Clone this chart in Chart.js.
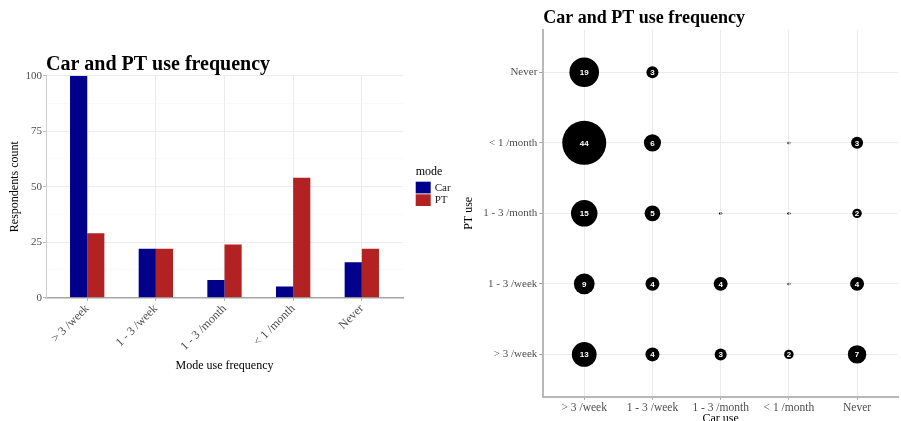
<!DOCTYPE html>
<html>
<head>
<meta charset="utf-8">
<script src="https://cdn.jsdelivr.net/npm/chart.js@4/dist/chart.umd.min.js"></script>
<style>
  html, body { margin: 0; padding: 0; width: 901px; height: 421px; overflow: hidden; background: #fff; }
  #freq { position: absolute; left: 0; top: 0; }
  #cross { position: absolute; left: 460px; top: 0; }
</style>
</head>
<body>
<canvas id="freq" width="460" height="421"></canvas>
<canvas id="cross" width="460" height="440"></canvas>
<script>
// Frequency categories, shared by both panels (bottom-to-top on the y axis of the cross panel)
const frequencies = ['> 3 /week', '1 - 3 /week', '1 - 3 /month', '< 1 /month', 'Never'];

// Respondents per frequency, by mode
const carCounts = [100, 22, 8, 5, 16];
const ptCounts = [29, 22, 24, 54, 22];

// Cross-tabulation: one row per PT use level, columns follow car use levels
const ptOver3Week = [13, 4, 3, 2, 7];
const pt1to3Week = [9, 4, 4, 1, 4];
const pt1to3Month = [15, 5, 1, 1, 2];
const ptUnder1Month = [44, 6, 0, 1, 3];
const ptNever = [19, 3, 0, 0, 0];

const countTicks = [0, 25, 50, 75, 100];

const SERIF = '"Liberation Serif", "Times New Roman", serif';
Chart.defaults.font.family = SERIF;
Chart.defaults.color = '#4d4d4d';

const GRID = '#ececec';
const GRID_MINOR = '#f5f5f5';

// Panel title drawn flush with the plotting area's left edge
const panelTitle = {
  id: 'panelTitle',
  afterDraw(chart, args, opts) {
    const { ctx, chartArea } = chart;
    ctx.save();
    ctx.font = opts.font;
    ctx.fillStyle = '#000';
    ctx.textAlign = 'left';
    ctx.textBaseline = 'alphabetic';
    ctx.fillText(opts.text, chartArea.left, chartArea.top - opts.gap);
    ctx.restore();
  }
};

// Legend with a title, keys stacked next to the plot
const modeLegend = {
  id: 'modeLegend',
  afterDraw(chart, args, opts) {
    const { ctx, chartArea } = chart;
    const x0 = chartArea.right + 12.7;
    const mid = (chartArea.top + chartArea.bottom) / 2;
    ctx.save();
    ctx.textBaseline = 'middle';
    ctx.textAlign = 'left';
    ctx.fillStyle = '#000';
    ctx.font = '12px ' + SERIF;
    ctx.fillText(opts.title, x0, mid - 15);
    ctx.font = '11px ' + SERIF;
    chart.data.datasets.forEach((ds, i) => {
      const top = mid - 5 + i * 12.6;
      ctx.fillStyle = ds.backgroundColor;
      ctx.fillRect(x0, top, 15, 11.7);
      ctx.fillStyle = '#222';
      ctx.fillText(ds.label, x0 + 19, top + 6);
    });
    ctx.restore();
  }
};

// Count written inside each bubble
const countLabels = {
  id: 'countLabels',
  afterDatasetsDraw(chart) {
    const ctx = chart.ctx;
    ctx.save();
    ctx.font = 'bold 8px "Liberation Sans", Arial, sans-serif';
    ctx.fillStyle = '#fff';
    ctx.textAlign = 'center';
    ctx.textBaseline = 'middle';
    chart.data.datasets.forEach((ds, di) => {
      chart.getDatasetMeta(di).data.forEach((el, i) => {
        ctx.fillText(String(ds.data[i].n), el.x, el.y + 0.5);
      });
    });
    ctx.restore();
  }
};

const catLabel = v => (Number.isInteger(v) && frequencies[v - 1]) ? frequencies[v - 1] : '';

// ---- Left panel: grouped bars ----
new Chart(document.getElementById('freq'), {
  type: 'bar',
  data: {
    datasets: [
      { label: 'Car', data: carCounts.map((v, i) => ({ x: i + 1, y: v })), backgroundColor: '#00008B' },
      { label: 'PT', data: ptCounts.map((v, i) => ({ x: i + 1, y: v })), backgroundColor: '#B22222' }
    ]
  },
  options: {
    responsive: false,
    animation: false,
    devicePixelRatio: 1,
    categoryPercentage: 0.5,
    barPercentage: 1,
    borderWidth: 0,
    layout: { padding: { left: 0, top: 75.7, right: 57, bottom: 0 } },
    plugins: {
      legend: { display: false },
      tooltip: { enabled: false },
      panelTitle: { text: 'Car and PT use frequency', font: 'bold 20px ' + SERIF, gap: 5.7 },
      modeLegend: { title: 'mode' }
    },
    scales: {
      x: {
        type: 'linear',
        min: 0.4,
        max: 5.6,
        offset: false,
        grid: { offset: false, color: GRID, tickColor: '#a6a6a6', tickLength: 3 },
        border: { color: '#a6a6a6', width: 1.5 },
        ticks: {
          stepSize: 1, includeBounds: false, autoSkip: false,
          minRotation: 45, maxRotation: 45, padding: 1,
          font: { size: 12 }, callback: catLabel
        },
        title: { display: true, text: 'Mode use frequency', color: '#000', font: { size: 12 }, padding: { top: 0, bottom: 48 } },
        afterFit: s => { s.height = 123.3; }
      },
      y: {
        min: 0,
        max: 100,
        grid: {
          color: c => countTicks.includes(c.tick.value) ? GRID : GRID_MINOR,
          lineWidth: c => countTicks.includes(c.tick.value) ? 1 : 0.6,
          tickColor: c => countTicks.includes(c.tick.value) ? '#bdbdbd' : 'rgba(0,0,0,0)',
          tickLength: 3
        },
        border: { color: '#cfcfcf', width: 1 },
        ticks: {
          stepSize: 12.5, padding: 1, font: { size: 11 },
          callback: v => countTicks.includes(v) ? String(v) : ''
        },
        title: { display: true, text: 'Respondents count', color: '#000', font: { size: 12 }, padding: { top: 8, bottom: 0 } },
        afterFit: s => { s.width = 46; }
      }
    }
  },
  plugins: [panelTitle, modeLegend]
});

// ---- Right panel: bubble cross-tabulation ----
const ptRows = [ptOver3Week, pt1to3Week, pt1to3Month, ptUnder1Month, ptNever];
const allCounts = ptRows.flat().filter(n => n > 0);
const nMin = Math.min(...allCounts);
const nMax = Math.max(...allCounts);
const R_MIN = 1.6, R_MAX = 22;
// bubble radius grows with the square root of the rescaled count
const radiusFor = n => R_MIN + (R_MAX - R_MIN) * Math.sqrt((n - nMin) / (nMax - nMin));

const cells = [];
ptRows.forEach((row, yi) => {
  row.forEach((n, xi) => {
    if (n > 0) cells.push({ x: xi + 1, y: yi + 1, r: radiusFor(n), n: n });
  });
});

new Chart(document.getElementById('cross'), {
  type: 'bubble',
  data: { datasets: [{ data: cells, backgroundColor: '#000', borderWidth: 0 }] },
  options: {
    responsive: false,
    animation: false,
    devicePixelRatio: 1,
    layout: { padding: { left: 0, top: 30, right: 9, bottom: 0 } },
    plugins: {
      legend: { display: false },
      tooltip: { enabled: false },
      panelTitle: { text: 'Car and PT use frequency', font: 'bold 18px ' + SERIF, gap: 7.3 }
    },
    scales: {
      x: {
        type: 'linear', min: 0.4, max: 5.6,
        grid: { color: GRID, tickColor: '#a0a0a0', tickLength: 3 },
        border: { color: '#b8b8b8', width: 2 },
        ticks: { stepSize: 1, includeBounds: false, autoSkip: false, maxRotation: 0, padding: 1, font: { size: 11.5 }, callback: catLabel },
        title: { display: true, text: 'Car use', color: '#000', font: { size: 12 }, padding: { top: 0, bottom: 13.8 } },
        afterFit: s => { s.height = 43.3; }
      },
      y: {
        type: 'linear', min: 0.4, max: 5.6,
        grid: { color: GRID, tickColor: '#a0a0a0', tickLength: 4 },
        border: { color: '#b8b8b8', width: 2 },
        ticks: { stepSize: 1, includeBounds: false, autoSkip: false, padding: 2, font: { size: 11 }, callback: catLabel },
        title: { display: true, text: 'PT use', color: '#000', font: { size: 12 }, padding: { top: 1.8, bottom: 0 } },
        afterFit: s => { s.width = 83.3; }
      }
    }
  },
  plugins: [panelTitle, countLabels]
});
</script>
</body>
</html>
